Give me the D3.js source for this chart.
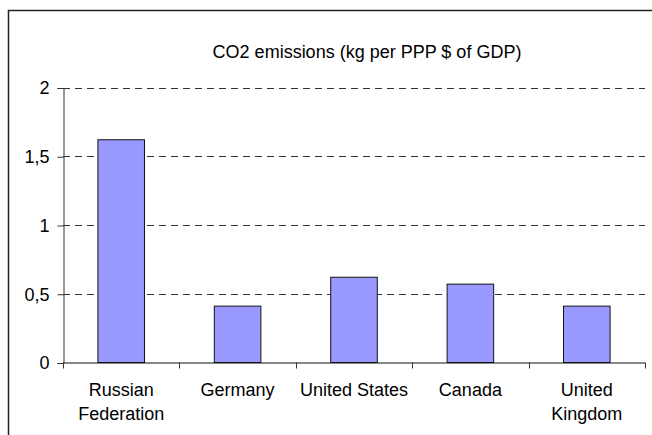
<!DOCTYPE html>
<html>
<head>
<meta charset="utf-8">
<script src="https://cdn.jsdelivr.net/npm/d3@7"></script>
<style>
  body { margin: 0; background: #fff; }
  svg { display: block; font-family: "Liberation Sans", Arial, sans-serif; }
</style>
</head>
<body>
<script>
// data
const countries = ['Russian Federation', 'Germany', 'United States', 'Canada', 'United Kingdom'];
const labelLines = [['Russian', 'Federation'], ['Germany'], ['United States'], ['Canada'], ['United', 'Kingdom']];
const emissions = [1.62, 0.41, 0.62, 0.57, 0.41];
const yTicks = [0, 0.5, 1, 1.5, 2];
const title = 'CO2 emissions (kg per PPP $ of GDP)';

const main = () => {
  const width = 652;
  const height = 435;
  const plot = { left: 63, right: 645, top: 87.5, bottom: 362.5 };
  const fs = 18;

  const svg = d3.select('body').append('svg')
    .attr('width', width)
    .attr('height', height);

  // outer frame (only top and left edges are inside the picture)
  svg.append('path')
    .attr('d', `M8.5,${height} L8.5,10.5 L${width},10.5`)
    .attr('fill', 'none')
    .attr('stroke', '#222')
    .attr('stroke-width', 1.5);

  svg.append('text')
    .attr('x', 367)
    .attr('y', 58)
    .attr('text-anchor', 'middle')
    .attr('font-size', fs)
    .attr('fill', '#000')
    .text(title);

  const x = d3.scaleBand()
    .domain(countries)
    .range([plot.left, plot.right])
    .paddingInner(0.6)
    .paddingOuter(0.3);

  const y = d3.scaleLinear()
    .domain([0, 2])
    .range([plot.bottom, plot.top]);

  // dashed gridlines
  svg.append('g')
    .selectAll('line')
    .data(yTicks.filter(d => d > 0))
    .join('line')
    .attr('x1', plot.left)
    .attr('x2', plot.right)
    .attr('y1', d => Math.round(y(d)) + 0.5)
    .attr('y2', d => Math.round(y(d)) + 0.5)
    .attr('stroke', '#333')
    .attr('stroke-dasharray', '7,5');

  // bars
  svg.append('g')
    .selectAll('rect')
    .data(emissions)
    .join('rect')
    .attr('x', (d, i) => x(countries[i]))
    .attr('y', d => y(d))
    .attr('width', x.bandwidth())
    .attr('height', d => y(0) - y(d))
    .attr('fill', '#9999ff')
    .attr('stroke', '#111')
    .attr('stroke-width', 1);

  // y axis
  const yAxis = d3.axisLeft(y)
    .tickValues(yTicks)
    .tickSize(6)
    .tickPadding(8)
    .tickFormat(d => String(d).replace('.', ','));

  svg.append('g')
    .attr('transform', `translate(${plot.left + 0.5},0.5)`)
    .call(yAxis)
    .call(g => g.select('.domain').attr('stroke', '#333'))
    .call(g => g.selectAll('.tick line').attr('stroke', '#333'))
    .call(g => g.selectAll('.tick text')
      .attr('font-size', fs)
      .attr('font-family', '"Liberation Sans", Arial, sans-serif')
      .attr('fill', '#000'));

  // x axis baseline with category boundary ticks
  const step = (plot.right - plot.left) / countries.length;
  const xg = svg.append('g');
  xg.append('line')
    .attr('x1', plot.left)
    .attr('x2', plot.right)
    .attr('y1', plot.bottom + 0.5)
    .attr('y2', plot.bottom + 0.5)
    .attr('stroke', '#111');
  xg.selectAll('line.tk')
    .data(d3.range(countries.length + 1))
    .join('line')
    .attr('class', 'tk')
    .attr('x1', i => Math.round(plot.left + i * step) + 0.5)
    .attr('x2', i => Math.round(plot.left + i * step) + 0.5)
    .attr('y1', plot.bottom)
    .attr('y2', plot.bottom + 6)
    .attr('stroke', '#333');

  const labels = xg.selectAll('text')
    .data(countries)
    .join('text')
    .attr('text-anchor', 'middle')
    .attr('font-size', fs)
    .attr('fill', '#000');
  labels.each(function (c, i) {
    const cx = x(c) + x.bandwidth() / 2;
    d3.select(this).selectAll('tspan')
      .data(labelLines[i])
      .join('tspan')
      .attr('x', cx)
      .attr('y', (d, j) => 396 + j * 24)
      .text(d => d);
  });
};

main();
</script>
</body>
</html>
